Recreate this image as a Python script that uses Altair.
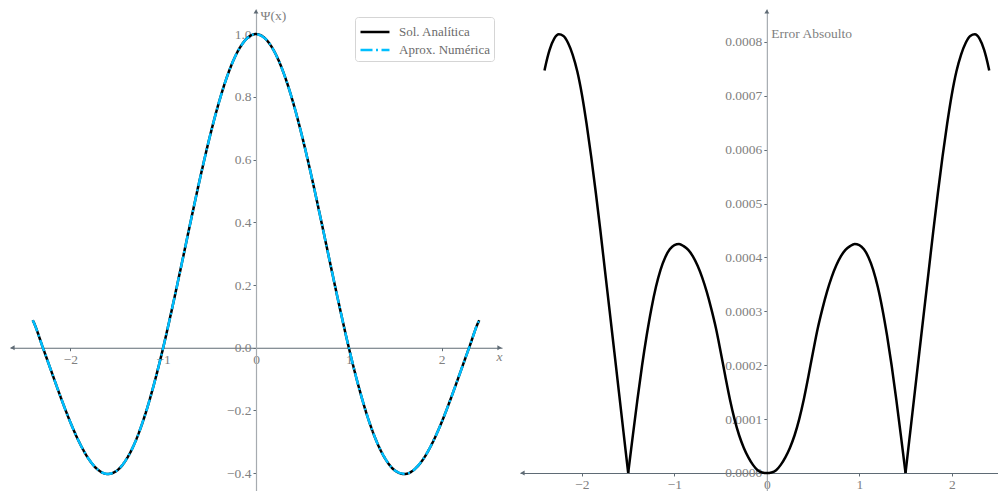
import altair as alt
import pandas as pd

# ---------------- data ----------------
serie_names = ["Sol. Analítica", "Aprox. Numérica"]

x_psi = [-2.405, -2.4, -2.3, -2.2, -2.1, -2.0, -1.9, -1.8, -1.7, -1.6, -1.5,
         -1.4, -1.3, -1.2, -1.1, -1.0, -0.9, -0.8, -0.7, -0.6, -0.5, -0.4,
         -0.3, -0.2, -0.1, 0.0, 0.1, 0.2, 0.3, 0.4, 0.5, 0.6, 0.7, 0.8, 0.9,
         1.0, 1.1, 1.2, 1.3, 1.4, 1.5, 1.6, 1.7, 1.8, 1.9, 2.0, 2.1, 2.2, 2.3,
         2.4, 2.405]
psi_analitica = [0.0875, 0.0846, 0.0037, -0.0790, -0.1609, -0.2375, -0.3036,
                 -0.3557, -0.3897, -0.4027, -0.3923, -0.3576, -0.2995, -0.2187,
                 -0.1175, 0.0, 0.1305, 0.2680, 0.4077, 0.5436, 0.6699, 0.7817,
                 0.8741, 0.9430, 0.9856, 1.0, 0.9856, 0.9430, 0.8741, 0.7817,
                 0.6699, 0.5436, 0.4077, 0.2680, 0.1305, 0.0, -0.1175, -0.2187,
                 -0.2995, -0.3576, -0.3923, -0.4027, -0.3897, -0.3557, -0.3036,
                 -0.2375, -0.1609, -0.0790, 0.0037, 0.0846, 0.0875]
psi_numerica = [0.0875, 0.0846, 0.0037, -0.0790, -0.1609, -0.2375, -0.3036,
                -0.3557, -0.3897, -0.4027, -0.3923, -0.3576, -0.2995, -0.2187,
                -0.1175, 0.0, 0.1305, 0.2680, 0.4077, 0.5436, 0.6699, 0.7817,
                0.8741, 0.9430, 0.9856, 1.0, 0.9856, 0.9430, 0.8741, 0.7817,
                0.6699, 0.5436, 0.4077, 0.2680, 0.1305, 0.0, -0.1175, -0.2187,
                -0.2995, -0.3576, -0.3923, -0.4027, -0.3897, -0.3557, -0.3036,
                -0.2375, -0.1609, -0.0790, 0.0037, 0.0846, 0.0875]

x_err = [-2.405, -2.4, -2.35, -2.3, -2.25, -2.2, -2.15, -2.1, -2.05, -2.0,
         -1.95, -1.9, -1.85, -1.8, -1.75, -1.7, -1.65, -1.6, -1.55, -1.5,
         -1.45, -1.4, -1.35, -1.3, -1.25, -1.2, -1.15, -1.1, -1.05, -1.0,
         -0.95, -0.9, -0.85, -0.8, -0.75, -0.7, -0.65, -0.6, -0.55, -0.5,
         -0.45, -0.4, -0.35, -0.3, -0.25, -0.2, -0.15, -0.1, -0.05, 0.0,
         0.05, 0.1, 0.15, 0.2, 0.25, 0.3, 0.35, 0.4, 0.45, 0.5,
         0.55, 0.6, 0.65, 0.7, 0.75, 0.8, 0.85, 0.9, 0.95, 1.0,
         1.05, 1.1, 1.15, 1.2, 1.25, 1.3, 1.35, 1.4, 1.45, 1.5,
         1.55, 1.6, 1.65, 1.7, 1.75, 1.8, 1.85, 1.9, 1.95, 2.0,
         2.05, 2.1, 2.15, 2.2, 2.25, 2.3, 2.35, 2.4, 2.405]
err_abs = [0.000747, 0.000751, 0.000785, 0.000806, 0.000814, 0.000811,
           0.000798, 0.000776, 0.000745, 0.000702, 0.000648, 0.000587,
           0.000520, 0.000449, 0.000374, 0.000300, 0.000225, 0.000150,
           0.000075, 0.000000, 0.000069, 0.000136, 0.000199, 0.000255,
           0.000304, 0.000345, 0.000377, 0.000400, 0.000415, 0.000423,
           0.000425, 0.000421, 0.000414, 0.000402, 0.000385, 0.000363,
           0.000336, 0.000304, 0.000268, 0.000225, 0.000180, 0.000137,
           0.000100, 0.000070, 0.000047, 0.000029, 0.000015, 0.000005,
           0.000001, 0.0,
           0.000001, 0.000005, 0.000015, 0.000029, 0.000047, 0.000070,
           0.000100, 0.000137, 0.000180, 0.000225, 0.000268, 0.000304,
           0.000336, 0.000363, 0.000385, 0.000402, 0.000414, 0.000421,
           0.000425, 0.000423, 0.000415, 0.000400, 0.000377, 0.000345,
           0.000304, 0.000255, 0.000199, 0.000136, 0.000069, 0.000000,
           0.000075, 0.000150, 0.000225, 0.000300, 0.000374, 0.000449,
           0.000520, 0.000587, 0.000648, 0.000702, 0.000745, 0.000776,
           0.000798, 0.000811, 0.000814, 0.000806, 0.000785, 0.000751,
           0.000747]
# x positions where the error curve has a sharp (non-smooth) zero
err_cusps = [-1.5, 1.5]

psi_ticks_x = [-2, -1, 0, 1, 2]
psi_ticks_y = [-0.4, -0.2, 0.0, 0.2, 0.4, 0.6, 0.8, 1.0]
err_ticks_x = [-2, -1, 0, 1, 2]
err_ticks_y = [0.0, 0.0001, 0.0002, 0.0003, 0.0004, 0.0005, 0.0006, 0.0007, 0.0008]

# ---------------- styling ----------------
FONT = "Liberation Serif"
LABEL = "#808080"
XAX = "#5f6b75"
YAX = "#a6abb0"
BLACK = "#000000"
CYAN = "#00bfff"
ARROW = 2.5

W1, H1 = 492, 483
X1 = [-2.65, 2.65]
Y1 = [-0.46, 1.08]
W2, H2 = 478, 483
X2 = [-2.67, 2.5]
Y2 = [-0.0000353, 0.000861]


def zero_offsets(xd, yd, w, h):
    oy_axis = -(w * (0 - xd[0]) / (xd[1] - xd[0]))
    ox_axis = -(h * (0 - yd[0]) / (yd[1] - yd[0]))
    return ox_axis, oy_axis


def x_axis(values, offset, width, title):
    return alt.Axis(values=values, format="d", offset=offset, grid=False,
                    domainColor=XAX, domainWidth=1.2, tickColor=XAX,
                    tickSize=3, tickWidth=1, labelColor=LABEL, labelFont=FONT,
                    labelFontSize=13.5, labelPadding=2,
                    title=title, titleFont=FONT, titleFontSize=13.5,
                    titleFontStyle="italic", titleFontWeight="normal",
                    titleColor=LABEL, titleX=width, titleY=2,
                    titleAlign="right", titleBaseline="top")


def y_axis(values, fmt, offset, title, ty):
    return alt.Axis(values=values, format=fmt, offset=offset, grid=False,
                    domainColor=YAX, domainWidth=1.2, tickColor=XAX,
                    tickSize=3, tickWidth=1, labelColor=LABEL, labelFont=FONT,
                    labelFontSize=13.5, labelPadding=2,
                    title=title, titleFont=FONT, titleFontSize=13.5,
                    titleFontWeight="normal", titleColor=LABEL, titleAngle=0,
                    titleX=4, titleY=ty, titleAlign="left",
                    titleBaseline="middle")


def arrow(xv, yv, shape, dx=0.0, dy=0.0):
    d = pd.DataFrame({"x": [xv], "y": [yv]})
    return alt.Chart(d).mark_point(shape=shape, filled=True, size=24, opacity=1,
                                   color=XAX, xOffset=dx, yOffset=dy).encode(
        x=alt.X("x:Q"), y=alt.Y("y:Q"))


# ---------------- left panel ----------------
ox1, oy1 = zero_offsets(X1, Y1, W1, H1)
n = len(x_psi)
df_psi = pd.DataFrame({
    "x": x_psi + x_psi,
    "psi": psi_analitica + psi_numerica,
    "serie": [serie_names[0]] * n + [serie_names[1]] * n,
})

color_scale = alt.Scale(domain=serie_names, range=[BLACK, CYAN])
dash_scale = alt.Scale(domain=serie_names, range=[[1, 0], [12, 3.5, 2, 3.5]])
legend = alt.Legend(orient="top-right", offset=8, title=None,
                    symbolType="M-1,0H2.05", symbolSize=361, symbolStrokeWidth=2.5,
                    labelFont=FONT, labelFontSize=13, labelColor="#6b6b6b",
                    strokeColor="#d5d5d5", fillColor="white", padding=4,
                    cornerRadius=3, labelOffset=18, rowPadding=0)

base = alt.Chart(df_psi).mark_line(strokeWidth=2.5, interpolate="monotone").encode(
    x=alt.X("x:Q", scale=alt.Scale(domain=X1, nice=False, zero=False),
            axis=x_axis(psi_ticks_x, ox1, W1, "x")),
    y=alt.Y("psi:Q", scale=alt.Scale(domain=Y1, nice=False, zero=False),
            axis=y_axis(psi_ticks_y, ".1f", oy1, "Ψ(x)", 6)),
    color=alt.Color("serie:N", scale=color_scale, legend=legend),
    strokeDash=alt.StrokeDash("serie:N", scale=dash_scale, legend=legend),
    order=alt.Order("x:Q"),
)
line_a = base.transform_filter(alt.datum.serie == serie_names[0])
line_n = base.transform_filter(alt.datum.serie == serie_names[1])

left = alt.layer(
    line_a, line_n,
    arrow(X1[0], 0.0, "triangle-left", dx=ARROW),
    arrow(X1[1], 0.0, "triangle-right", dx=-ARROW),
    arrow(0.0, Y1[1], "triangle-up", dy=ARROW),
).properties(width=W1, height=H1)

# ---------------- right panel ----------------
ox2, oy2 = zero_offsets(X2, Y2, W2, H2)
# split the error curve into smooth pieces at its sharp zeros
rows = []
seg = 0
for xv, ev in zip(x_err, err_abs):
    rows.append({"x": xv, "err": ev, "seg": seg})
    if xv in err_cusps:
        seg += 1
        rows.append({"x": xv, "err": ev, "seg": seg})
df_err = pd.DataFrame(rows)

err_line = alt.Chart(df_err).mark_line(strokeWidth=2.5, color=BLACK,
                                       interpolate="monotone").encode(
    x=alt.X("x:Q", scale=alt.Scale(domain=X2, nice=False, zero=False),
            axis=x_axis(err_ticks_x, ox2, W2, "")),
    y=alt.Y("err:Q", scale=alt.Scale(domain=Y2, nice=False, zero=False),
            axis=y_axis(err_ticks_y, ".4f", oy2, "Error Absoulto", 24)),
    detail=alt.Detail("seg:N"),
    order=alt.Order("x:Q"),
)

right = alt.layer(
    err_line,
    arrow(X2[0], 0.0, "triangle-left", dx=ARROW),
    arrow(0.0, Y2[1], "triangle-up", dy=ARROW),
).properties(width=W2, height=H2)

chart = alt.hconcat(left, right, spacing=18).resolve_scale(
    color="independent", strokeDash="independent"
).properties(
    padding={"left": 2, "top": 0, "right": 0, "bottom": 0},
    background="white",
).configure_view(strokeWidth=0)

chart.save("out.html", embed_options={"renderer": "svg", "actions": False})
